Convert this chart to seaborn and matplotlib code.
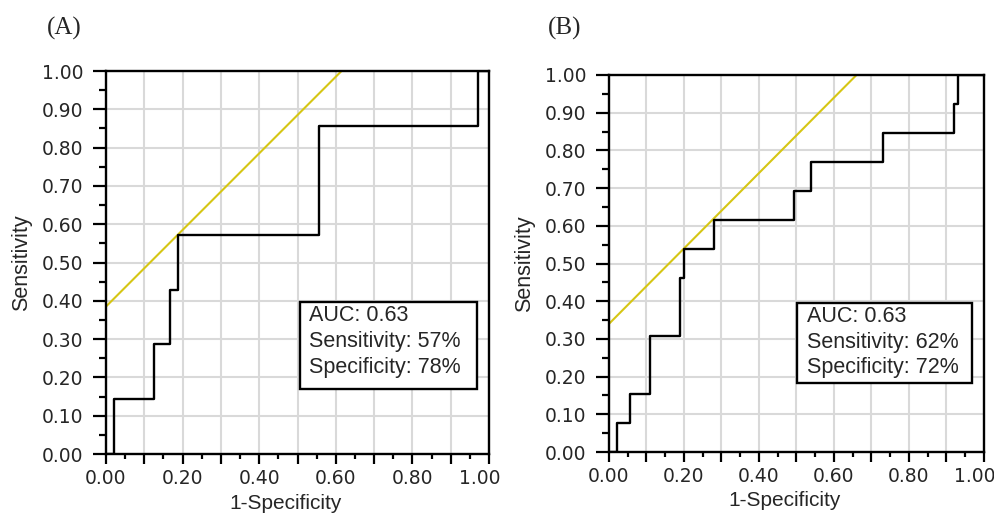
import numpy as np
import pandas as pd
import matplotlib
matplotlib.use("Agg")
import matplotlib.pyplot as plt
import matplotlib.transforms as mtransforms
import seaborn as sns
from matplotlib.patches import Rectangle
from matplotlib.ticker import MultipleLocator, FuncFormatter

# ROC step points (1-specificity, sensitivity)
FPR_A = [0.0, 0.020, 0.125, 0.167, 0.188, 0.557, 0.970, 1.0]
TPR_A = [0.0, 0.143, 0.286, 0.429, 0.571, 0.857, 1.000, 1.0]
CUT_A = 0.385  # intercept of the tangent (Youden) line, slope 1

FPR_B = [0.0, 0.021, 0.055, 0.110, 0.190, 0.200, 0.280, 0.493, 0.538, 0.730, 0.921, 0.932, 1.0]
TPR_B = [0.0, 0.077, 0.154, 0.308, 0.462, 0.538, 0.615, 0.692, 0.769, 0.846, 0.923, 1.000, 1.0]
CUT_B = 0.34

PANELS = ["(A)", "(B)"]
STATS = [
    "AUC: 0.63\nSensitivity: 57%\nSpecificity: 78%",
    "AUC: 0.63\nSensitivity: 62%\nSpecificity: 72%",
]

YELLOW = "#d6c614"
GRID = "#d9d9d9"
SANS = ["Liberation Sans", "DejaVu Sans"]

sns.set_style("white")
plt.rcParams["font.family"] = ["DejaVu Sans"]

fig = plt.figure(figsize=(9.95, 5.18), dpi=100)
# [left, bottom, width, height] in figure fractions
ax_a = fig.add_axes([106 / 995, 1 - 454 / 518, 383 / 995, 383 / 518])
ax_b = fig.add_axes([609 / 995, 1 - 452 / 518, 375 / 995, 377 / 518])

# where the box / label sit in each panel (axes coords)
BOXES = [(0.507, 0.170, 0.462, 0.227), (0.501, 0.183, 0.467, 0.212)]
TEXT_XY = [(0.530, 0.388), (0.528, 0.388)]
PANEL_XY = [(64 / 995, 1 - 28 / 518), (565 / 995, 1 - 28 / 518)]
XLABEL_X = [0.468, 0.468]
YLABEL_X = [-0.193, -0.197]

fmt = FuncFormatter(lambda v, p: f"{v:.2f}")
xfmt = FuncFormatter(lambda v, p: f"{v:.2f}" if round(v * 10) % 2 == 0 else "")

for i, (ax, fpr, tpr, cut) in enumerate([(ax_a, FPR_A, TPR_A, CUT_A), (ax_b, FPR_B, TPR_B, CUT_B)]):
    roc = pd.DataFrame({"fpr": fpr, "tpr": tpr})
    sns.lineplot(data=roc, x="fpr", y="tpr", ax=ax, color="black", lw=1.7,
                 drawstyle="steps-post", estimator=None, sort=False, zorder=3)
    xs = np.array([0.0, 1.0])
    sns.lineplot(x=xs, y=xs + cut, ax=ax, color=YELLOW, lw=1.5, estimator=None, zorder=2)

    ax.set_xlim(0, 1)
    ax.set_ylim(0, 1)
    ax.xaxis.set_major_locator(MultipleLocator(0.1))
    ax.xaxis.set_minor_locator(MultipleLocator(0.05))
    ax.yaxis.set_major_locator(MultipleLocator(0.1))
    ax.yaxis.set_minor_locator(MultipleLocator(0.05))
    ax.xaxis.set_major_formatter(xfmt)
    ax.yaxis.set_major_formatter(fmt)
    ax.tick_params(axis="both", which="major", direction="out", length=7.5, width=1.6,
                   color="black", labelsize=13.5, bottom=True, left=True)
    ax.tick_params(axis="both", which="minor", direction="out", length=3.8, width=1.6,
                   color="black", bottom=True, left=True)
    ax.tick_params(axis="x", which="major", pad=3)
    ax.tick_params(axis="y", which="major", pad=7, length=9.5)
    ax.tick_params(axis="y", which="minor", length=5)

    ax.grid(True, which="major", color=GRID, lw=1.5)
    ax.set_axisbelow(True)
    for s in ax.spines.values():
        s.set_visible(True)
        s.set_color("black")
        s.set_linewidth(1.7)

    ax.set_xlabel("1-Specificity", fontsize=15, family=SANS)
    ax.set_ylabel("Sensitivity", fontsize=15.5, family=SANS)
    ax.xaxis.set_label_coords(XLABEL_X[i], -0.104)
    ax.yaxis.set_label_coords(YLABEL_X[i], 0.5)

    # the last x label sits a little left of its tick, as in the source
    fig.canvas.draw()
    last = [t for t in ax.get_xticklabels() if t.get_text() == "1.00"]
    for t in last:
        t.set_transform(t.get_transform() + mtransforms.ScaledTranslation(-9 / 100, 0, fig.dpi_scale_trans))

    bx, by, bw, bh = BOXES[i]
    ax.add_patch(Rectangle((bx, by), bw, bh, transform=ax.transAxes, facecolor="white",
                           edgecolor="black", lw=1.7, zorder=5))
    tx, ty = TEXT_XY[i]
    ax.text(tx, ty, STATS[i], transform=ax.transAxes, ha="left", va="top", fontsize=15.5,
            linespacing=1.3, family=SANS, zorder=6)

    px, py = PANEL_XY[i]
    fig.text(px, py, PANELS[i], ha="center", va="center", fontsize=18,
             family=["Liberation Serif", "DejaVu Serif"])

fig.savefig("out.png", dpi=100)
